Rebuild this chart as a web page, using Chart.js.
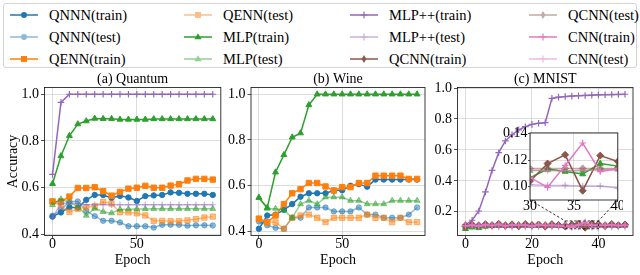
<!DOCTYPE html>
<html>
<head>
<meta charset="utf-8">
<script src="https://cdn.jsdelivr.net/npm/chart.js@4.4.1/dist/chart.umd.min.js"></script>
<style>
  html, body { margin: 0; padding: 0; background: #fff; }
  #wrap { position: relative; width: 640px; height: 275px; overflow: hidden;
          font-family: "Liberation Serif", "Times New Roman", serif; }
  canvas { position: absolute; }
  #legend { position: absolute; left: 3px; top: 3px; width: 634px; height: 65px;
            border: 1px solid #d4d4d4; border-radius: 3px; box-sizing: border-box; background: #fff; }
  .item { position: absolute; height: 20px; font-size: 14.5px; line-height: 20px; white-space: nowrap; color: #000; }
  .item svg { position: absolute; left: 0; top: 0; }
  .item span { position: absolute; left: 40px; top: 0; }
</style>
</head>
<body>
<div id="wrap">
  <div id="legend"></div>
  <canvas id="panelA" width="226" height="205" style="left:0px;top:70px;z-index:1;"></canvas>
  <canvas id="panelB" width="206" height="205" style="left:224px;top:70px;z-index:1;"></canvas>
  <canvas id="panelC" width="210" height="205" style="left:430px;top:70px;z-index:2;"></canvas>
  <canvas id="inset" width="128" height="110" style="left:495px;top:124px;z-index:3;"></canvas>
</div>
<script>
(function () {
  "use strict";

  // ----- Data: (a) Quantum and (b) Wine, evaluated every 5 epochs -----
  const EPOCHS_AB = [0, 5, 10, 15, 20, 25, 30, 35, 40, 45, 50, 55, 60, 65, 70, 75, 80, 85, 90, 95];

  const QUANTUM_QNNN_TRAIN = [0.475, 0.493, 0.515, 0.513, 0.547, 0.568, 0.568, 0.555, 0.564, 0.557, 0.542, 0.563, 0.566, 0.568, 0.579, 0.577, 0.573, 0.573, 0.573, 0.568];
  const QUANTUM_QNNN_TEST = [0.479, 0.504, 0.54, 0.54, 0.5, 0.477, 0.457, 0.457, 0.45, 0.434, 0.434, 0.434, 0.428, 0.44, 0.44, 0.44, 0.436, 0.438, 0.438, 0.437];
  const QUANTUM_QENN_TRAIN = [0.54, 0.54, 0.561, 0.598, 0.598, 0.601, 0.584, 0.565, 0.581, 0.595, 0.599, 0.607, 0.599, 0.599, 0.608, 0.614, 0.63, 0.637, 0.637, 0.634];
  const QUANTUM_QENN_TEST = [0.54, 0.522, 0.495, 0.508, 0.515, 0.52, 0.539, 0.531, 0.494, 0.493, 0.489, 0.48, 0.457, 0.457, 0.455, 0.455, 0.459, 0.464, 0.471, 0.475];
  const QUANTUM_MLP_TRAIN = [0.616, 0.735, 0.822, 0.872, 0.885, 0.896, 0.895, 0.895, 0.892, 0.892, 0.892, 0.892, 0.894, 0.894, 0.894, 0.894, 0.894, 0.894, 0.894, 0.894];
  const QUANTUM_MLP_TEST = [0.525, 0.55, 0.535, 0.52, 0.48, 0.51, 0.496, 0.49, 0.506, 0.507, 0.508, 0.508, 0.509, 0.509, 0.509, 0.509, 0.509, 0.509, 0.509, 0.509];
  const QUANTUM_MLPPP_TRAIN = [0.656, 0.965, 1.0, 1.0, 1.0, 1.0, 1.0, 1.0, 1.0, 1.0, 1.0, 1.0, 1.0, 1.0, 1.0, 1.0, 1.0, 1.0, 1.0, 1.0];
  const QUANTUM_MLPPP_TEST = [0.472, 0.53, 0.535, 0.53, 0.526, 0.526, 0.526, 0.526, 0.526, 0.526, 0.526, 0.526, 0.526, 0.526, 0.526, 0.526, 0.526, 0.526, 0.526, 0.526];

  const WINE_QNNN_TRAIN = [0.412, 0.47, 0.474, 0.495, 0.52, 0.552, 0.567, 0.567, 0.567, 0.579, 0.58, 0.6, 0.607, 0.596, 0.627, 0.627, 0.627, 0.627, 0.627, 0.627];
  const WINE_QNNN_TEST = [0.444, 0.427, 0.416, 0.412, 0.46, 0.46, 0.505, 0.505, 0.505, 0.488, 0.488, 0.488, 0.505, 0.474, 0.474, 0.46, 0.46, 0.46, 0.474, 0.505];
  const WINE_QENN_TRAIN = [0.456, 0.441, 0.47, 0.52, 0.567, 0.585, 0.612, 0.612, 0.597, 0.579, 0.594, 0.594, 0.612, 0.612, 0.644, 0.644, 0.644, 0.644, 0.63, 0.63];
  const WINE_QENN_TEST = [0.456, 0.44, 0.44, 0.412, 0.46, 0.47, 0.474, 0.46, 0.441, 0.46, 0.46, 0.46, 0.46, 0.474, 0.46, 0.46, 0.441, 0.46, 0.441, 0.441];
  const WINE_MLP_TRAIN = [0.548, 0.504, 0.659, 0.735, 0.812, 0.83, 0.953, 1.0, 1.0, 1.0, 1.0, 1.0, 1.0, 1.0, 1.0, 1.0, 1.0, 1.0, 1.0, 1.0];
  const WINE_MLP_TEST = [0.548, 0.5, 0.5, 0.493, 0.46, 0.52, 0.535, 0.52, 0.55, 0.55, 0.55, 0.535, 0.535, 0.52, 0.52, 0.52, 0.535, 0.535, 0.535, 0.535];

  // ----- Data: (c) MNIST, evaluated every 2 epochs -----
  const EPOCHS_C = [0, 2, 4, 6, 8, 10, 12, 14, 16, 18, 20, 22, 24, 26, 28, 30, 32, 34, 36, 38, 40, 42, 44, 46, 48];

  const MNIST_MLP_TRAIN = [0.09, 0.1, 0.096, 0.105, 0.108, 0.11, 0.112, 0.109, 0.113, 0.111, 0.112, 0.11, 0.113, 0.112, 0.109, 0.1067, 0.1133, 0.1114, 0.1095, 0.1174, 0.1155, 0.112, 0.114, 0.111, 0.113];
  const MNIST_MLP_TEST = [0.1, 0.105, 0.108, 0.11, 0.111, 0.112, 0.112, 0.112, 0.113, 0.112, 0.112, 0.113, 0.112, 0.112, 0.112, 0.112, 0.1125, 0.112, 0.112, 0.113, 0.113, 0.112, 0.113, 0.112, 0.112];
  const MNIST_MLPPP_TRAIN = [0.115, 0.145, 0.205, 0.328, 0.467, 0.582, 0.658, 0.698, 0.73, 0.75, 0.765, 0.772, 0.776, 0.933, 0.941, 0.945, 0.948, 0.95, 0.952, 0.954, 0.956, 0.957, 0.958, 0.959, 0.96];
  const MNIST_MLPPP_TEST = [0.11, 0.1, 0.1, 0.102, 0.101, 0.1, 0.101, 0.1, 0.101, 0.101, 0.1, 0.101, 0.1, 0.101, 0.101, 0.1014, 0.101, 0.101, 0.1005, 0.1005, 0.099, 0.1, 0.1, 0.101, 0.1];
  const MNIST_QCNN_TRAIN = [0.105, 0.118, 0.108, 0.12, 0.112, 0.122, 0.11, 0.119, 0.106, 0.121, 0.113, 0.118, 0.104, 0.12, 0.114, 0.1043, 0.1174, 0.124, 0.097, 0.1234, 0.119, 0.108, 0.121, 0.112, 0.118];
  const MNIST_QCNN_TEST = [0.113, 0.114, 0.114, 0.113, 0.114, 0.114, 0.114, 0.113, 0.114, 0.114, 0.114, 0.114, 0.114, 0.113, 0.114, 0.1138, 0.1138, 0.1138, 0.1138, 0.1138, 0.1138, 0.114, 0.114, 0.113, 0.114];
  const MNIST_CNN_TRAIN = [0.11, 0.115, 0.105, 0.118, 0.11, 0.12, 0.108, 0.116, 0.112, 0.114, 0.106, 0.118, 0.111, 0.113, 0.109, 0.107, 0.0995, 0.116, 0.1329, 0.1114, 0.1138, 0.112, 0.117, 0.11, 0.114];
  const MNIST_CNN_TEST = [0.108, 0.11, 0.112, 0.111, 0.112, 0.112, 0.111, 0.112, 0.112, 0.112, 0.111, 0.112, 0.112, 0.112, 0.112, 0.1125, 0.112, 0.112, 0.1125, 0.112, 0.1125, 0.112, 0.112, 0.112, 0.112];

  // ----- Axis ticks -----
  const X_TICKS_AB = [0, 50];
  const X_TICKS_C = [0, 20, 40];
  const Y_TICKS_AB = [0.4, 0.6, 0.8, 1.0];
  const Y_TICKS_C = [0.2, 0.4, 0.6, 0.8, 1.0];
  const INSET_X_TICKS = [30, 35, 40];
  const INSET_Y_TICKS = [0.10, 0.12, 0.14];
  const INSET_X_RANGE = [30, 40];
  const INSET_Y_RANGE = [0.09, 0.1405];

  // ----- Legend (column-major, 4 columns x 3 rows) -----
  const LEGEND_ENTRIES = [
    ["QNNN", "train"], ["QNNN", "test"], ["QENN", "train"],
    ["QENN", "test"], ["MLP", "train"], ["MLP", "test"],
    ["MLP++", "train"], ["MLP++", "test"], ["QCNN", "train"],
    ["QCNN", "test"], ["CNN", "train"], ["CNN", "test"],
  ];

  // ----- Styling (tab10 colours, matplotlib-like markers) -----
  const SERIF = '"Liberation Serif", "Times New Roman", serif';
  const STYLES = {
    QNNN: { rgb: [31, 119, 180], point: "circle", r: 2.7, pw: 1 },
    QENN: { rgb: [255, 127, 14], point: "rect", r: 3.8, pw: 1 },
    MLP: { rgb: [44, 160, 44], point: "triangle", r: 3.4, pw: 1 },
    "MLP++": { rgb: [148, 103, 189], point: "cross", r: 3.3, pw: 1.2 },
    QCNN: { rgb: [140, 86, 75], point: "rectRot", r: 3.5, pw: 1 },
    CNN: { rgb: [227, 119, 194], point: "cross", r: 3.3, pw: 1.2 },
  };

  function rgba(rgb, a) {
    return "rgba(" + rgb.join(",") + "," + a + ")";
  }

  function makeSet(model, split, xs, ys) {
    const st = STYLES[model];
    const col = rgba(st.rgb, split === "test" ? 0.5 : 1);
    return {
      label: model + "(" + split + ")",
      data: xs.map((x, i) => ({ x: x, y: ys[i] })),
      borderColor: col,
      backgroundColor: col,
      borderWidth: 1.5,
      pointStyle: st.point,
      pointRadius: st.r,
      pointBackgroundColor: col,
      pointBorderColor: col,
      pointBorderWidth: st.pw,
      tension: 0,
      fill: false,
    };
  }

  // later datasets are drawn on top, like matplotlib
  function ordered(sets) {
    return sets.map((d, i) => Object.assign(d, { order: -i }));
  }

  const framePlugin = {
    id: "frame",
    afterDatasetsDraw(chart) {
      const { ctx, chartArea: a } = chart;
      ctx.save();
      ctx.strokeStyle = "#262626";
      ctx.lineWidth = 0.9;
      ctx.strokeRect(a.left, a.top, a.right - a.left, a.bottom - a.top);
      ctx.restore();
    },
  };

  const whiteArea = {
    id: "whiteArea",
    beforeDraw(chart) {
      const { ctx, chartArea: a } = chart;
      ctx.save();
      ctx.fillStyle = "#fff";
      ctx.fillRect(a.left, a.top, a.right - a.left, a.bottom - a.top);
      ctx.restore();
    },
  };

  // writes the y tick labels of a panel from its own y scale, after everything else
  function yLabelPlugin(values, digits, gap) {
    return {
      id: "yLabels",
      afterDraw(chart) {
        const { ctx, chartArea: a, scales } = chart;
        ctx.save();
        ctx.fillStyle = "#000";
        ctx.font = "14px " + SERIF;
        ctx.textAlign = "right";
        ctx.textBaseline = "middle";
        values.forEach((v) => {
          ctx.fillText(v.toFixed(digits), a.left - gap, scales.y.getPixelForValue(v));
        });
        ctx.restore();
      },
    };
  }

  function makePanel(canvas, cfg) {
    const tickFont = { family: SERIF, size: 14 };
    const labelFont = { family: SERIF, size: 14, lineHeight: 1.15 };
    const gridCfg = () => ({
      color: "rgba(176,176,176,0.55)",
      lineWidth: 0.8,
      drawTicks: true,
      tickLength: cfg.tickLen,
      tickColor: "#262626",
      tickWidth: 0.8,
    });
    return new Chart(canvas, {
      type: "line",
      data: { datasets: ordered(cfg.datasets) },
      options: {
        responsive: false,
        animation: false,
        events: [],
        layout: { padding: { left: 0, right: cfg.padRight, top: cfg.padTop || 0, bottom: 0 } },
        plugins: {
          legend: { display: false },
          tooltip: { enabled: false },
          title: cfg.title
            ? {
                display: true,
                text: cfg.title,
                fullSize: false,
                color: "#000",
                font: { family: SERIF, size: 14, weight: "normal", lineHeight: 1.15 },
                padding: { top: 1.4, bottom: 0 },
              }
            : { display: false },
        },
        scales: {
          x: {
            type: "linear",
            min: cfg.xRange[0],
            max: cfg.xRange[1],
            afterBuildTicks: (s) => { s.ticks = cfg.xTicks.map((v) => ({ value: v })); },
            afterFit: (s) => { s.height = cfg.xAxisH; },
            grid: gridCfg(),
            border: { display: false },
            ticks: { font: tickFont, color: "#000", padding: cfg.xPad, maxRotation: 0, autoSkip: false,
                     callback: (v) => String(v) },
            title: { display: !!cfg.xTitle, text: cfg.xTitle || "", color: "#000", font: labelFont,
                     padding: { top: 0, bottom: 6.5 } },
          },
          y: {
            type: "linear",
            min: cfg.yRange[0],
            max: cfg.yRange[1],
            afterBuildTicks: (s) => { s.ticks = cfg.yTicks.map((v) => ({ value: v })); },
            afterFit: (s) => { s.width = cfg.yAxisW; },
            grid: gridCfg(),
            border: { display: false },
            ticks: { display: !cfg.manualYLabels, font: tickFont, color: "#000", padding: cfg.yPad, autoSkip: false,
                     callback: (v) => Number(v).toFixed(cfg.yDigits) },
            title: { display: !!cfg.yTitle, text: cfg.yTitle || "", color: "#000", font: labelFont,
                     padding: { top: 5.2, bottom: 0 } },
          },
        },
      },
      plugins: (cfg.extraPlugins || []).concat([framePlugin]),
    });
  }

  // ----- Legend -----
  function markerSvg(style, c) {
    switch (style) {
      case "circle": return '<circle cx="15" cy="10" r="3" fill="' + c + '"/>';
      case "rect": return '<rect x="12" y="7" width="6" height="6" fill="' + c + '"/>';
      case "triangle": return '<polygon points="15,6.3 18.6,12.3 11.4,12.3" fill="' + c + '"/>';
      case "rectRot": return '<polygon points="15,6 17.4,10 15,14 12.6,10" fill="' + c + '"/>';
      default: return '<path d="M11.5 10H18.5M15 6.5V13.5" stroke="' + c + '" stroke-width="1.2"/>';
    }
  }

  function rgb(a) {
    return "rgb(" + a.join(",") + ")";
  }

  function buildLegend() {
    const box = document.getElementById("legend");
    const COL_X = [5, 179, 345, 524];
    const ROW_Y = [1, 23, 45];
    LEGEND_ENTRIES.forEach(([model, split], i) => {
      const st = STYLES[model];
      const c = rgb(st.rgb);
      const item = document.createElement("div");
      item.className = "item";
      item.style.left = COL_X[Math.floor(i / 3)] + "px";
      item.style.top = ROW_Y[i % 3] + "px";
      item.innerHTML =
        '<svg width="30" height="20"><g opacity="' + (split === "test" ? 0.5 : 1) + '">' +
        '<line x1="1" y1="10" x2="29" y2="10" stroke="' + c + '" stroke-width="1.5"/>' +
        markerSvg(st.point, c) + "</g></svg><span>" + model + "(" + split + ")</span>";
      box.appendChild(item);
    });
  }

  // ----- Panels -----
  function init() {
    buildLegend();

    makePanel(document.getElementById("panelA"), {
      title: "(a) Quantum",
      datasets: [
        makeSet("QNNN", "train", EPOCHS_AB, QUANTUM_QNNN_TRAIN),
        makeSet("QNNN", "test", EPOCHS_AB, QUANTUM_QNNN_TEST),
        makeSet("QENN", "train", EPOCHS_AB, QUANTUM_QENN_TRAIN),
        makeSet("QENN", "test", EPOCHS_AB, QUANTUM_QENN_TEST),
        makeSet("MLP", "train", EPOCHS_AB, QUANTUM_MLP_TRAIN),
        makeSet("MLP", "test", EPOCHS_AB, QUANTUM_MLP_TEST),
        makeSet("MLP++", "train", EPOCHS_AB, QUANTUM_MLPPP_TRAIN),
        makeSet("MLP++", "test", EPOCHS_AB, QUANTUM_MLPPP_TEST),
      ],
      xRange: [-4.75, 99.75], yRange: [0.394, 1.029],
      xTicks: X_TICKS_AB, yTicks: Y_TICKS_AB, yDigits: 1,
      xTitle: "Epoch", yTitle: "Accuracy",
      yAxisW: 44.5, xAxisH: 39.5, padRight: 4.5, tickLen: 3.5, xPad: -3, yPad: 2,
    });

    makePanel(document.getElementById("panelB"), {
      title: "(b) Wine",
      datasets: [
        makeSet("QNNN", "train", EPOCHS_AB, WINE_QNNN_TRAIN),
        makeSet("QNNN", "test", EPOCHS_AB, WINE_QNNN_TEST),
        makeSet("QENN", "train", EPOCHS_AB, WINE_QENN_TRAIN),
        makeSet("QENN", "test", EPOCHS_AB, WINE_QENN_TEST),
        makeSet("MLP", "train", EPOCHS_AB, WINE_MLP_TRAIN),
        makeSet("MLP", "test", EPOCHS_AB, WINE_MLP_TEST),
      ],
      xRange: [-4.75, 99.75], yRange: [0.3826, 1.0294],
      xTicks: X_TICKS_AB, yTicks: Y_TICKS_AB, yDigits: 1,
      xTitle: "Epoch",
      yAxisW: 27, xAxisH: 39.5, padRight: 1, tickLen: 3.5, xPad: -3, yPad: 2,
    });

    const mnistSets = () => [
      makeSet("MLP", "train", EPOCHS_C, MNIST_MLP_TRAIN),
      makeSet("MLP", "test", EPOCHS_C, MNIST_MLP_TEST),
      makeSet("MLP++", "train", EPOCHS_C, MNIST_MLPPP_TRAIN),
      makeSet("MLP++", "test", EPOCHS_C, MNIST_MLPPP_TEST),
      makeSet("QCNN", "train", EPOCHS_C, MNIST_QCNN_TRAIN),
      makeSet("QCNN", "test", EPOCHS_C, MNIST_QCNN_TEST),
      makeSet("CNN", "train", EPOCHS_C, MNIST_CNN_TRAIN),
      makeSet("CNN", "test", EPOCHS_C, MNIST_CNN_TEST),
    ];

    const mainCanvas = document.getElementById("panelC");
    const mainChart = makePanel(mainCanvas, {
      title: "(c) MNIST",
      datasets: mnistSets(),
      xRange: [-2.4, 50.4], yRange: [0.0465, 1.0035],
      xTicks: X_TICKS_C, yTicks: Y_TICKS_C, yDigits: 1,
      xTitle: "Epoch",
      yAxisW: 27.5, xAxisH: 39.5, padRight: 7, tickLen: 3.5, xPad: -3, yPad: 2,
      manualYLabels: true,
      extraPlugins: [yLabelPlugin(Y_TICKS_C, 1, 5.5)],
    });

    const insetCanvas = document.getElementById("inset");
    // dashed box around the zoomed region of (c), joined to the inset's lower corners
    const zoomMark = {
      id: "zoomMark",
      afterDraw(chart) {
        const { ctx, chartArea: ia } = chart;
        const sx = mainChart.scales.x;
        const sy = mainChart.scales.y;
        const dx = mainCanvas.offsetLeft - insetCanvas.offsetLeft;
        const dy = mainCanvas.offsetTop - insetCanvas.offsetTop;
        const x0 = sx.getPixelForValue(INSET_X_RANGE[0]) + dx;
        const x1 = sx.getPixelForValue(INSET_X_RANGE[1]) + dx;
        const y0 = sy.getPixelForValue(INSET_Y_RANGE[0]) + dy;
        const y1 = sy.getPixelForValue(INSET_Y_RANGE[1]) + dy;
        ctx.save();
        ctx.strokeStyle = "#000";
        ctx.lineWidth = 0.8;
        ctx.setLineDash([2.5, 2]);
        ctx.strokeRect(x0, y1, x1 - x0, y0 - y1);
        ctx.beginPath();
        ctx.moveTo(ia.left, ia.bottom);
        ctx.lineTo(x0, y1);
        ctx.moveTo(ia.right, ia.bottom);
        ctx.lineTo(x1, y1);
        ctx.stroke();
        ctx.restore();
      },
    };

    makePanel(insetCanvas, {
      datasets: mnistSets(),
      xRange: INSET_X_RANGE, yRange: INSET_Y_RANGE,
      xTicks: INSET_X_TICKS, yTicks: INSET_Y_TICKS, yDigits: 2,
      yAxisW: 35, xAxisH: 34, padRight: 5, padTop: 5, tickLen: 2, xPad: -4, yPad: 0.5,
      extraPlugins: [whiteArea, zoomMark],
    });
  }

  init();
})();
</script>
</body>
</html>
